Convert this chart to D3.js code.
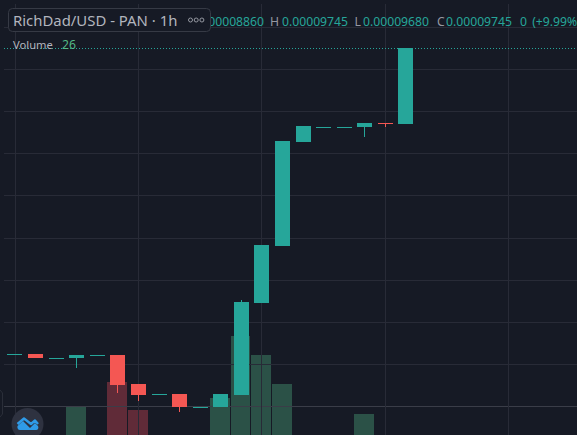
<!DOCTYPE html>
<html><head><meta charset="utf-8">
<script src="https://cdn.jsdelivr.net/npm/d3@7/dist/d3.min.js"></script>
<style>html,body{margin:0;padding:0;background:#161a25;overflow:hidden}svg{display:block}text{font-family:"Noto Sans",sans-serif}</style>
</head><body><div id="chart"></div>
<script>
// prices in units of 1e-6 USD
const opens  = [61.18,61.18,60.76,60.70,61.00,61.06,57.61,56.37,56.43,54.94,54.88,56.31,67.23,74.00,86.35,88.19,88.19,88.14,88.60,88.50];
const closes = [61.18,60.70,60.76,61.06,61.00,57.49,56.31,56.37,54.88,54.94,56.43,67.35,74.12,86.47,88.25,88.19,88.19,88.61,88.55,97.50];
const highs  = [61.18,61.18,60.76,61.06,61.00,61.06,57.61,56.37,56.43,54.94,56.43,67.59,74.12,86.47,88.25,88.19,88.19,88.61,88.60,97.50];
const lows   = [61.18,60.70,60.76,59.51,61.00,56.54,55.59,56.37,54.29,54.94,54.88,56.31,67.23,74.00,86.35,88.19,88.19,86.95,88.14,88.50];
const volumes= [20,15,12,320,18,560,280,14,16,20,400,1020,830,540,20,16,14,240,18,26];
const priceTicks = [100,95,90,85,80,75,70,65,60,55];
const timeTicks = [0,6,12,18,24];
const lastClose = 97.45;
const titleLabel = "RichDad/USD - PAN · 1h";
const ohlcLabels = [
  {t:"O",v:"0.00008860",x:188,o:10},{t:"H",v:"0.00009745",x:270,o:12},{t:"L",v:"0.00009680",x:354.5,o:8.5},{t:"C",v:"0.00009745",x:437,o:9}
];
const changeLabel = "0 (+9.99%)";
const volumeLabel = "Volume";
const volumeValue = "26";

const W=577,H=435,BG="#161a25",UP="#26a69a",DOWN="#f45753",GRID="#282b37",BASEGRID="#3a3d48";
const x=d3.scaleLinear().domain([0,24]).range([15,508.92]);
const y=d3.scaleLinear().domain([90,95]).range([111.3,69.2]);
const yVol=d3.scaleLinear().domain([0,1000]).range([438,338]);
const svg=d3.select("#chart").append("svg").attr("width",W).attr("height",H);
svg.append("rect").attr("width",W).attr("height",H).attr("fill",BG);

const cw=15;
const left=i=>Math.round(x(i)-7.55);
const idx=d3.range(opens.length);
// volumes
svg.append("g").selectAll("rect").data(idx.filter(i=>volumes[i]>30)).join("rect")
  .attr("x",i=>Math.round(x(i)-10.7)).attr("width",i=>Math.round(x(i)+9.05)-Math.round(x(i)-10.7))
  .attr("y",i=>Math.round(yVol(volumes[i]))).attr("height",i=>Math.max(0,438-Math.round(yVol(volumes[i]))))
  .attr("fill",i=>closes[i]>=opens[i]?"#53b987":"#eb4d5c").attr("fill-opacity",.35);
// grid
svg.append("g").selectAll("line").data(priceTicks).join("line")
  .attr("x1",4).attr("x2",W).attr("y1",d=>Math.round(y(d))+.5).attr("y2",d=>Math.round(y(d))+.5)
  .attr("stroke",d=>d===55?BASEGRID:GRID);
svg.append("g").selectAll("line").data(timeTicks).join("line")
  .attr("y1",4).attr("y2",H).attr("x1",d=>Math.floor(x(d))+.5).attr("x2",d=>Math.floor(x(d))+.5)
  .attr("stroke",GRID);
// price line
svg.append("line").attr("x1",4).attr("x2",W).attr("y1",Math.round(y(lastClose))+.5-1).attr("y2",Math.round(y(lastClose))+.5-1)
  .attr("stroke",UP).attr("stroke-dasharray","1 2");
// candles
const col=i=>closes[i]>=opens[i]?UP:DOWN;
const g=svg.append("g");
g.selectAll("line").data(idx).join("line")
  .attr("x1",i=>left(i)+7.5).attr("x2",i=>left(i)+7.5)
  .attr("y1",i=>Math.round(y(highs[i]))).attr("y2",i=>Math.round(y(lows[i])))
  .attr("stroke",col);
g.selectAll("rect").data(idx).join("rect")
  .attr("x",left).attr("width",cw)
  .attr("y",i=>Math.round(y(Math.max(opens[i],closes[i]))))
  .attr("height",i=>Math.max(1,Math.round(y(Math.min(opens[i],closes[i])))-Math.round(y(Math.max(opens[i],closes[i])))))
  .attr("fill",col);
// OHLC
const lg=svg.append("g").attr("font-size",12.2);
ohlcLabels.forEach((d,i)=>{
  lg.append("text").attr("x",d.x).attr("y",26).attr("fill",i==0?UP:"#9598a1").text(d.t);
  lg.append("text").attr("x",d.x+d.o).attr("y",26).attr("fill",UP).text(d.v);
});
lg.append("text").attr("x",520).attr("y",26).attr("fill",UP).attr("word-spacing",2).text(changeLabel);
// title box
svg.append("rect").attr("x",8.5).attr("y",8.5).attr("width",202).attr("height",23).attr("rx",4)
  .attr("fill",BG).attr("stroke","#363a45");
svg.append("text").attr("x",13).attr("y",26).attr("font-size",14.9).attr("fill","#b2b5be").text(titleLabel);
svg.append("g").selectAll("circle").data([0,1,2]).join("circle")
  .attr("cx",d=>190.5+d*5.7).attr("cy",20).attr("r",2).attr("fill","none").attr("stroke","#9598a1").attr("stroke-width",1);
svg.append("text").attr("x",13).attr("y",49).attr("font-size",11.2).attr("fill","#b2b5be").text(volumeLabel);
svg.append("text").attr("x",62).attr("y",49).attr("font-size",12.2).attr("fill","#53b987").text(volumeValue);
// logo
svg.append("path").attr("d","M-3 390 L0 390 L2.5 393 L2.5 414 L0 417 L-3 417").attr("fill","none").attr("stroke","#2a2e39");
svg.append("circle").attr("cx",27.5).attr("cy",424).attr("r",16).attr("fill","#2e3240");
svg.append("path").attr("d","M17.5 426 L23 421 L30 428 L35 423 L38 426 C39 428 38 430 36 430 L20 430 C18 430 17 428 17.5 426 Z").attr("fill","#2f9be8");
svg.append("path").attr("d","M17.5 424 L24 418.5 L31 424 L35 420.5 L38 424").attr("fill","none").attr("stroke","#2f9be8").attr("stroke-width",2.4).attr("stroke-linejoin","round");
</script></body></html>
